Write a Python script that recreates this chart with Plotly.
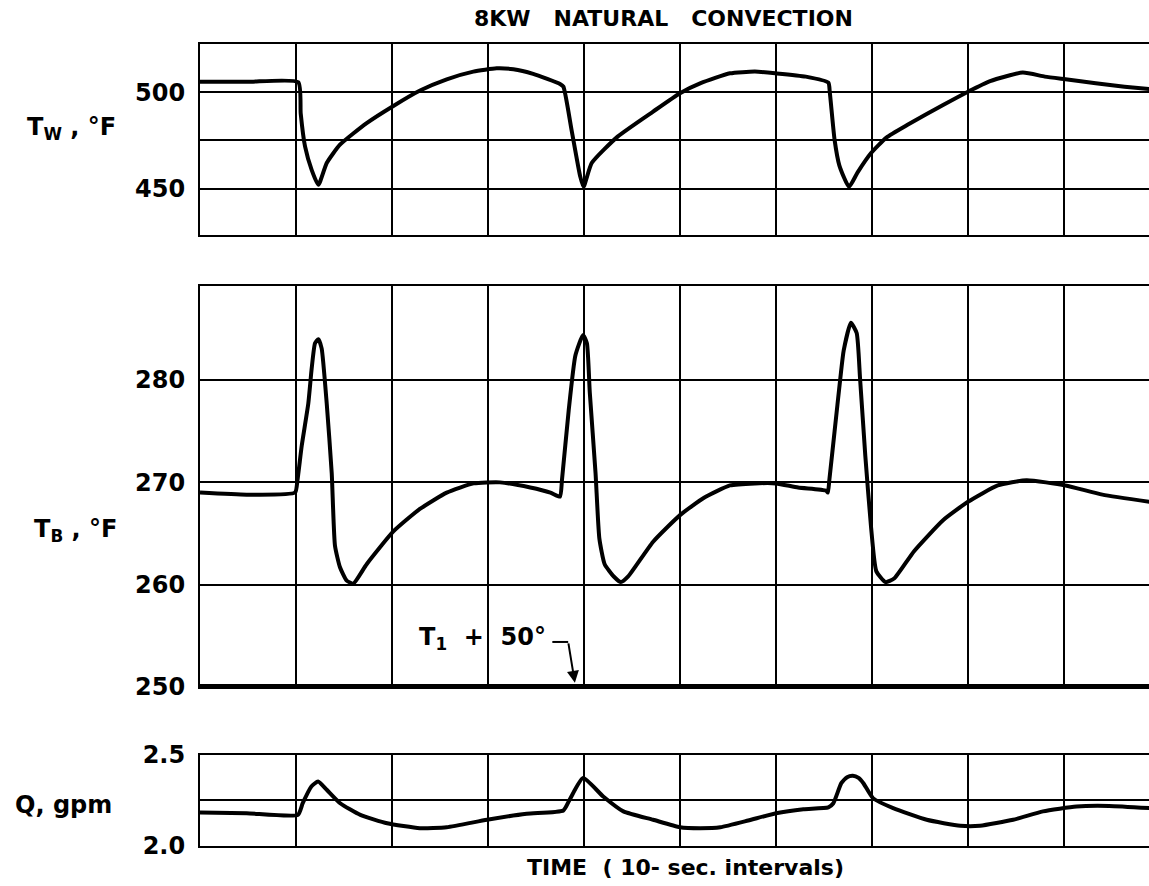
import plotly.graph_objects as go

# ---- wall temperature T_W (deg F) vs time (s) ----
tw_time = [0, 5.0, 10.24, 10.49, 10.94, 11.63, 12.33, 13.2, 14.58, 17.36, 20.14, 22.92, 25.7,
           28.47, 30.9, 32.64, 34.7, 37.5, 37.85, 38.7, 39.6, 39.95, 40.8, 43.5, 47.2,
           50.0, 52.15, 55.2, 57.8, 60.0, 63.1, 65.45, 65.6, 66.1, 66.6, 67.6, 68.5, 69.9,
           71.5, 73.7, 77.4, 80.0, 82.3, 85.7, 88.0, 90.15, 93.3, 96.3, 98.9]
tw_temp = [505.5, 505.4, 505.2, 489.0, 471.9, 459.8, 452.0, 463.3, 472.8, 484.0, 492.9, 500.9, 506.7,
           510.7, 512.4, 511.9, 509.5, 504.3, 502.9, 480.5, 456.4, 451.0, 463.3, 477.0, 490.0,
           499.5, 504.7, 509.8, 510.7, 509.8, 508.1, 505.0, 500.0, 475.3, 462.0, 451.0, 458.5, 468.5,
           476.5, 483.1, 493.4, 500.3, 505.8, 510.2, 508.1, 506.7, 504.7, 502.9, 501.6]

# ---- bulk temperature T_B (deg F) ----
tb_time = [0, 4.86, 9.9, 10.15, 10.6, 11.28, 11.63, 11.98, 12.33, 12.67, 13.2, 13.72, 14.06,
           14.58, 15.28, 15.97, 17.36, 20.14, 22.9, 25.7, 28.5, 31.25, 34.4, 36.5, 37.5,
           37.7, 38.4, 39.1, 39.9, 40.3, 40.6, 41.2, 41.6, 42.15, 43.1, 43.85, 44.6, 47.2,
           50.0, 52.5, 55.2, 57.8, 60.0, 62.3, 65.2, 65.4, 65.55, 66.1, 66.7, 67.05, 67.8,
           68.4, 68.75, 69.3, 69.9, 70.45, 71.4, 72.3, 74.4, 77.4, 80.0, 83.1, 86.1, 90.15,
           94.0, 98.9]
tb_temp = [269.0, 268.8, 269.0, 270.2, 273.6, 277.7, 281.1, 283.6, 284.0, 283.1, 277.7, 270.9,
           263.8, 261.7, 260.4, 260.1, 262.0, 265.2, 267.4, 269.0, 269.9, 270.0, 269.5, 269.0,
           268.6, 270.2, 277.0, 282.4, 284.4, 283.6, 278.8, 270.9, 264.5, 262.0, 260.8, 260.25,
           260.8, 264.2, 266.8, 268.5, 269.7, 269.9, 269.9, 269.5, 269.2, 269.0, 270.2, 275.0,
           280.2, 282.9, 285.6, 284.6, 280.2, 272.6, 265.6, 261.3, 260.25, 260.6, 263.3, 266.3,
           268.1, 269.7, 270.2, 269.7, 268.8, 268.1]

# ---- reference level T_1 + 50 deg ----
ref_time = [0, 98.9]
ref_temp = [250, 250]

# ---- flow rate Q (gpm) ----
q_time = [0, 4.86, 10.2, 10.7, 11.6, 12.3, 13.2, 14.6, 16.7, 19.5, 22.9, 25.7, 29.9, 34.03,
          37.85, 38.5, 39.9, 42.0, 44.1, 47.2, 50.0, 52.1, 54.2, 57.1, 60.0, 62.85, 65.45,
          65.97, 66.8, 67.4, 68.0, 68.6, 69.1, 70.1, 72.2, 75.7, 79.2, 81.25, 84.7, 87.8, 91.3,
          94.7, 98.9]
q_flow = [2.184, 2.18, 2.171, 2.235, 2.327, 2.354, 2.309, 2.235, 2.171, 2.125, 2.098, 2.103,
          2.144, 2.177, 2.195, 2.254, 2.373, 2.272, 2.19, 2.144, 2.103, 2.098, 2.103, 2.14,
          2.18, 2.202, 2.212, 2.235, 2.345, 2.378, 2.386, 2.374, 2.345, 2.263, 2.208, 2.144,
          2.111, 2.111, 2.144, 2.19, 2.217, 2.22, 2.208]

FONT = "DejaVu Sans"
INK = "black"
NB = "\u00a0"

fig = go.Figure()
line = dict(color=INK, width=4, shape="spline", smoothing=0.5)
fig.add_trace(go.Scatter(x=tw_time, y=tw_temp, mode="lines", line=line, xaxis="x", yaxis="y"))
fig.add_trace(go.Scatter(x=tb_time, y=tb_temp, mode="lines", line=line, xaxis="x2", yaxis="y2"))
fig.add_trace(go.Scatter(x=ref_time, y=ref_temp, mode="lines", line=dict(color=INK, width=6),
                         xaxis="x2", yaxis="y2", cliponaxis=False))
fig.add_trace(go.Scatter(x=q_time, y=q_flow, mode="lines", line=line, xaxis="x3", yaxis="y3"))

xcommon = dict(range=[0, 98.85], tick0=0, dtick=10, showgrid=True, gridcolor=INK, gridwidth=2,
               showticklabels=False, ticks="", showline=True, mirror=True, linecolor=INK,
               linewidth=2, zeroline=False)
ycommon = dict(showgrid=True, gridcolor=INK, gridwidth=2, ticks="", showline=True,
               linecolor=INK, linewidth=2, zeroline=False, ticklabelstandoff=8,
               tickfont=dict(family=FONT, size=24, color=INK, weight="bold"))

fig.update_layout(
    width=1149, height=886, autosize=False,
    margin=dict(l=200, r=0, t=44, b=40),
    paper_bgcolor="white", plot_bgcolor="white", showlegend=False,
    xaxis=dict(xcommon, anchor="y"),
    xaxis2=dict(xcommon, anchor="y2", matches="x"),
    xaxis3=dict(xcommon, anchor="y3", matches="x"),
    yaxis=dict(ycommon, domain=[0.7618, 1.0], range=[426, 525],
               tickvals=[450, 475, 500], ticktext=["450", "", "500"]),
    yaxis2=dict(ycommon, domain=[0.1983, 0.6983], range=[250, 289.2],
                tickvals=[250, 260, 270, 280], ticktext=["250", "260", "270", "280"]),
    yaxis3=dict(ycommon, domain=[0.0, 0.1135], range=[2.0, 2.5],
                tickvals=[2.0, 2.25, 2.5], ticktext=["2.0", "", "2.5"]),
)

bold = lambda s: dict(family=FONT, size=s, color=INK, weight="bold")
ann = []
ann.append(dict(text=f"8KW{NB*3}NATURAL{NB*3}CONVECTION", xref="paper", yref="paper",
                x=0.4879, y=1.0324, xanchor="center", yanchor="middle", showarrow=False,
                font=bold(22)))
ann.append(dict(text=f"TIME{NB*2}({NB}10-{NB}sec.{NB}intervals)", xref="paper", yref="paper",
                x=0.5120, y=-0.0274, xanchor="center", yanchor="middle", showarrow=False,
                font=bold(22)))
ann.append(dict(text="T<sub>W</sub> , °F", xref="paper", yref="paper", x=-0.1844, y=0.895,
                xanchor="left", yanchor="middle", showarrow=False, font=bold(24)))
ann.append(dict(text="T<sub>B</sub> , °F", xref="paper", yref="paper", x=-0.1770, y=0.393,
                xanchor="left", yanchor="middle", showarrow=False, font=bold(24)))
ann.append(dict(text="Q, gpm", xref="paper", yref="paper", x=-0.197, y=0.051,
                xanchor="left", yanchor="middle", showarrow=False, font=bold(24)))
# T1 + 50 label with bent leader pointing to the reference line
ann.append(dict(text="T<sub>1</sub>  +  50°", xref="x2", yref="y2", x=29.4, y=254.7,
                xanchor="center", yanchor="middle", showarrow=False, font=bold(24)))
ann.append(dict(text="", xref="x2", yref="y2", x=39.05, y=250.4, axref="x2", ayref="y2",
                ax=38.35, ay=254.4, showarrow=True, arrowhead=2, arrowsize=1.2,
                arrowwidth=2, arrowcolor=INK))
fig.update_layout(annotations=ann)
fig.add_shape(type="line", xref="x2", yref="y2", x0=36.7, x1=38.35, y0=254.4, y1=254.4,
              line=dict(color=INK, width=2))

fig.write_html("out.html")
